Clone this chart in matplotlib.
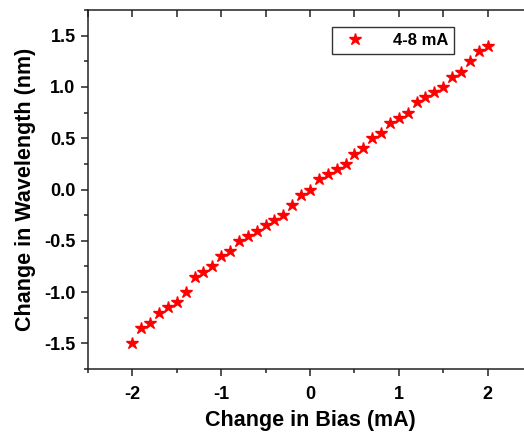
import matplotlib
matplotlib.use('Agg')
import matplotlib.pyplot as plt
from matplotlib.ticker import MultipleLocator

plt.rcParams['font.family'] = ['Liberation Sans', 'DejaVu Sans']
plt.rcParams['font.weight'] = 'bold'
plt.rcParams['axes.unicode_minus'] = False

# change in bias (mA) and change in wavelength (nm)
bias = [-2.0, -1.9, -1.8, -1.7, -1.6, -1.5, -1.4, -1.3, -1.2, -1.1,
        -1.0, -0.9, -0.8, -0.7, -0.6, -0.5, -0.4, -0.3, -0.2, -0.1,
        0.0, 0.1, 0.2, 0.3, 0.4, 0.5, 0.6, 0.7, 0.8, 0.9,
        1.0, 1.1, 1.2, 1.3, 1.4, 1.5, 1.6, 1.7, 1.8, 1.9, 2.0]
wavelength = [-1.5, -1.35, -1.3, -1.2, -1.15, -1.1, -1.0, -0.85, -0.8, -0.75,
              -0.65, -0.6, -0.5, -0.45, -0.4, -0.35, -0.3, -0.25, -0.15, -0.05,
              0.0, 0.1, 0.15, 0.2, 0.25, 0.35, 0.4, 0.5, 0.55, 0.65,
              0.7, 0.75, 0.85, 0.9, 0.95, 1.0, 1.1, 1.15, 1.25, 1.35, 1.4]
series_label = '4-8 mA'

fig = plt.figure(figsize=(5.24, 4.33), dpi=100)
ax = fig.add_axes([88 / 524, 64 / 433, 444 / 524, 359 / 433])

ax.plot(bias, wavelength, linestyle='none', marker='*', color='red',
        markersize=9, label=series_label)

ax.set_xlim(-2.5, 2.5)
ax.set_ylim(-1.75, 1.75)
ax.xaxis.set_major_locator(MultipleLocator(1))
ax.xaxis.set_minor_locator(MultipleLocator(0.5))
ax.yaxis.set_major_locator(MultipleLocator(0.5))
ax.yaxis.set_minor_locator(MultipleLocator(0.25))
ax.yaxis.set_major_formatter(plt.FormatStrFormatter('%.1f'))

for s in ax.spines.values():
    s.set_linewidth(1.1)
    s.set_color('#222222')

ax.tick_params(axis='both', which='major', direction='out', length=5, width=1.1,
               labelsize=13, color='#222222')
ax.tick_params(axis='both', which='minor', direction='out', length=3, width=1.1,
               color='#222222')
ax.tick_params(axis='x', which='major', pad=7)
ax.tick_params(axis='y', which='major', pad=4)

# mirrored ticks on top, pointing in
top = ax.secondary_xaxis('top')
top.xaxis.set_major_locator(MultipleLocator(0.5))
top.tick_params(direction='in', length=5, width=1.1, labeltop=False, color='#222222')
top.spines['top'].set_visible(False)

ax.set_xlabel('Change in Bias (mA)', fontsize=15.5, fontweight='bold', labelpad=5)
ax.set_ylabel('Change in Wavelength (nm)', fontsize=15.5, fontweight='bold', labelpad=6)

leg = ax.legend(loc='upper left', bbox_to_anchor=(244 / 444, 1 - 17 / 359),
                fontsize=12, frameon=True, fancybox=False, borderpad=0.35,
                handletextpad=1.3, borderaxespad=0, markerscale=1.0)
leg.get_frame().set_edgecolor('black')
leg.get_frame().set_linewidth(1.0)
for t in leg.get_texts():
    t.set_fontweight('bold')

fig.savefig('out.png', dpi=100)
